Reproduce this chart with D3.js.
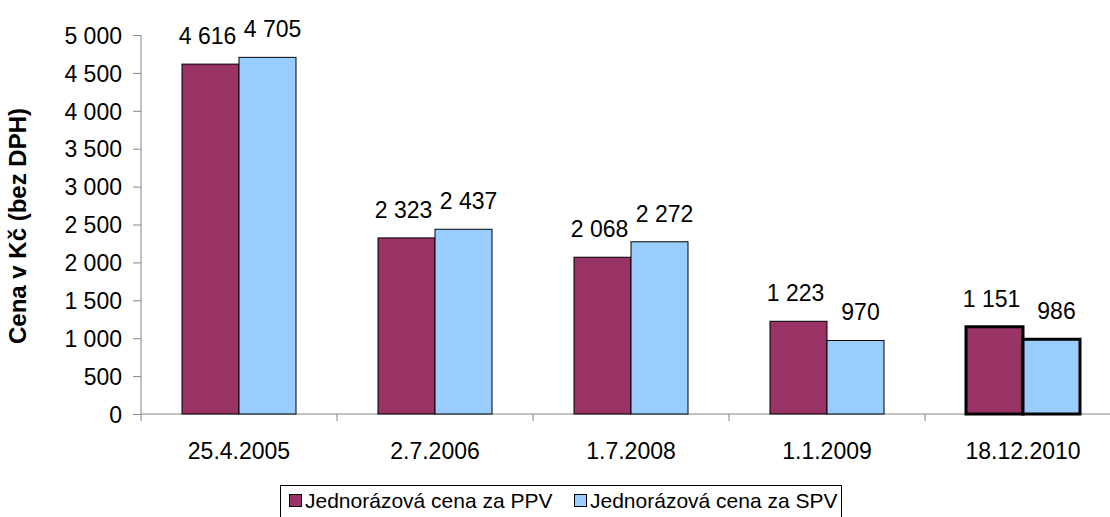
<!DOCTYPE html>
<html>
<head>
<meta charset="utf-8">
<script src="https://d3js.org/d3.v7.min.js"></script>
<style>
  body { margin: 0; background: #fff; }
  text { font-family: "Liberation Sans", Arial, sans-serif; fill: #000; }
</style>
</head>
<body>
<div id="chart"></div>
<script>
var categories = ["25.4.2005", "2.7.2006", "1.7.2008", "1.1.2009", "18.12.2010"];
var seriesNames = ["Jednorázová cena za PPV", "Jednorázová cena za SPV"];
var ppv = [4616, 2323, 2068, 1223, 1151];
var spv = [4705, 2437, 2272, 970, 986];
var yTicks = [0, 500, 1000, 1500, 2000, 2500, 3000, 3500, 4000, 4500, 5000];
var colors = ["#993366", "#99ccff"];

var width = 1110, height = 517;
var fs = "23px";

var svg = d3.select("#chart").append("svg")
    .attr("width", width)
    .attr("height", height);

var x = d3.scaleBand()
    .domain(categories)
    .range([141, 1121]);

var xs = d3.scaleBand()
    .domain([0, 1])
    .range([41, x.bandwidth() - 41]);

var y = d3.scaleLinear()
    .domain([0, 5000])
    .range([414, 35]);

var fmt = function(v) { return d3.format(",")(v).replace(/,/g, " "); };

// y axis
var yAxis = svg.append("g")
    .attr("transform", "translate(141,0)")
    .call(d3.axisLeft(y).tickValues(yTicks).tickSize(8).tickPadding(11).tickFormat(fmt));
yAxis.selectAll("path, line").attr("stroke", "#868686");
yAxis.select(".domain").attr("d", "M0," + y(5000) + "V" + y(0));
yAxis.selectAll("text").style("font-size", fs).attr("dy", "0.36em");

// x axis
var xAxis = svg.append("g")
    .attr("transform", "translate(0,414)");
xAxis.append("line")
    .attr("x1", 141).attr("x2", 1110)
    .attr("stroke", "#868686");
xAxis.selectAll(".tk")
    .data(categories)
    .enter().append("line")
    .attr("x1", function(d) { return x(d) + x.bandwidth(); })
    .attr("x2", function(d) { return x(d) + x.bandwidth(); })
    .attr("y1", 0).attr("y2", 7)
    .attr("stroke", "#868686");
xAxis.append("line")
    .attr("x1", 141).attr("x2", 141).attr("y1", 0).attr("y2", 7)
    .attr("stroke", "#868686");
xAxis.selectAll(".lbl")
    .data(categories)
    .enter().append("text")
    .attr("x", function(d) { return x(d) + x.bandwidth() / 2; })
    .attr("y", 45)
    .style("text-anchor", "middle")
    .style("font-size", fs)
    .text(function(d) { return d; });

// y title
svg.append("text")
    .attr("transform", "translate(26,226) rotate(-90)")
    .style("text-anchor", "middle")
    .style("font-size", "24px")
    .style("font-weight", "bold")
    .text("Cena v Kč (bez DPH)");

// bars
var rows = categories.map(function(c, i) {
  return { cat: c, i: i, vals: [ppv[i], spv[i]] };
});

var group = svg.selectAll(".grp")
    .data(rows)
    .enter().append("g")
    .attr("transform", function(d) { return "translate(" + x(d.cat) + ",0)"; });

group.selectAll("rect")
    .data(function(d) { return d.vals.map(function(v, k) { return { v: v, k: k, last: d.i === categories.length - 1 }; }); })
    .enter().append("rect")
    .attr("x", function(d) { return xs(d.k); })
    .attr("y", function(d) { return y(d.v); })
    .attr("width", xs.bandwidth())
    .attr("height", function(d) { return y(0) - y(d.v); })
    .attr("fill", function(d) { return colors[d.k]; })
    .attr("stroke", "#000")
    .attr("stroke-width", function(d) { return d.last ? 3 : 1; });

// labels nudged apart a little so neighbours don't touch
var nudge = [-3, 5];
group.selectAll("text")
    .data(function(d) { return d.vals.map(function(v, k) { return { v: v, k: k }; }); })
    .enter().append("text")
    .attr("x", function(d) { return xs(d.k) + xs.bandwidth() / 2 + nudge[d.k]; })
    .attr("y", function(d) { return y(d.v) - 20; })
    .style("text-anchor", "middle")
    .style("font-size", fs)
    .text(function(d) { return fmt(d.v); });

// legend
var legend = svg.append("g");
legend.append("rect")
    .attr("x", 280.5).attr("y", 485.5)
    .attr("width", 561).attr("height", 40)
    .attr("fill", "#fff")
    .attr("stroke", "#000");
var legX = [289, 574];
seriesNames.forEach(function(name, k) {
  legend.append("rect")
      .attr("x", legX[k] + 0.5).attr("y", 494.5)
      .attr("width", 12).attr("height", 12)
      .attr("fill", colors[k])
      .attr("stroke", "#000");
  legend.append("text")
      .attr("x", legX[k] + 16)
      .attr("y", 508)
      .style("font-size", "21px")
      .text(name);
});
</script>
</body>
</html>
